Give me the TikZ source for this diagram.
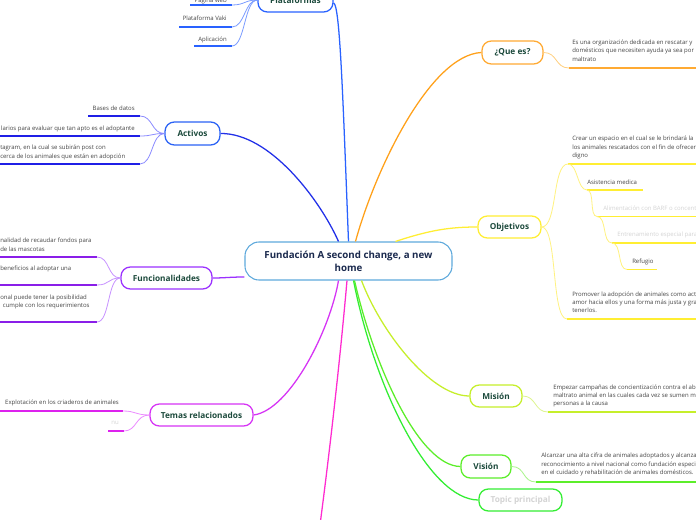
\documentclass[tikz,border=0pt]{standalone}
\usepackage{fontspec}
\setmainfont{Open Sans}
\usetikzlibrary{calc}
\definecolor{titlecol}{HTML}{1C4A3C}
\definecolor{centcol}{HTML}{1B2A4E}
\definecolor{txtcol}{HTML}{454545}
\definecolor{faint}{HTML}{D4D4D4}
\definecolor{centb}{HTML}{5EA9DC}
\definecolor{plat}{HTML}{2962FF}
\definecolor{platl}{HTML}{7B9CFF}
\definecolor{actc}{HTML}{2230E8}
\definecolor{actb}{HTML}{2A62F5}
\definecolor{actu}{HTML}{1F1FE6}
\definecolor{actl}{HTML}{8C8CFF}
\definecolor{func}{HTML}{9B30FF}
\definecolor{funu}{HTML}{8A1EE8}
\definecolor{funl}{HTML}{C792FF}
\definecolor{temc}{HTML}{D633F5}
\definecolor{temu}{HTML}{DD22EE}
\definecolor{teml}{HTML}{EC8CFF}
\definecolor{pinkc}{HTML}{FF2BD0}
\definecolor{quec}{HTML}{FFA11A}
\definecolor{queu}{HTML}{FFAA33}
\definecolor{quel}{HTML}{FFD080}
\definecolor{objc}{HTML}{FFEE33}
\definecolor{objl}{HTML}{FFF280}
\definecolor{misc}{HTML}{C6EF2A}
\definecolor{misl}{HTML}{DEF590}
\definecolor{visc}{HTML}{5CEE2A}
\definecolor{visl}{HTML}{A8F58A}
\definecolor{topc}{HTML}{33EE33}
\begin{document}
\begin{tikzpicture}[x=0.75pt,y=-0.75pt,
  title/.style={draw, rounded corners=7pt, line width=0.95pt, fill=white, text=titlecol,
    font=\fontsize{6.2}{7.5}\selectfont\bfseries, inner sep=0pt, minimum height=16.5pt},
  ltxt/.style={font=\fontsize{4.5}{6.3}\selectfont, text=txtcol, inner sep=0pt, align=left, anchor=north west},
  rtxt/.style={font=\fontsize{4.5}{6.3}\selectfont, text=txtcol, inner sep=0pt, align=right, anchor=north east},
  uline/.style={line width=1.2pt},
  conn/.style={line width=0.95pt},
  subc/.style={line width=0.6pt}
]
\useasboundingbox (0,0) rectangle (696,520);
\fill[white] (0,0) rectangle (696,520);
\clip (0,0) rectangle (696,520);

% ---------- main nodes ----------
\node[draw=centb, line width=0.8pt, rounded corners=10.5pt, fill=white, text=centcol,
  font=\fontsize{7.3}{10}\selectfont\bfseries, align=center, inner sep=0pt,
  minimum width=155.25pt, minimum height=28.5pt] (c) at (348.5,261)
  {Fundación A second change, a new\\home};

\node[title, draw=plat, minimum width=56.25pt, minimum height=18pt] (P) at (295.5,0) {Plataformas};
\node[title, draw=actb, minimum width=41.25pt, minimum height=17.25pt] (A) at (192.5,133.5) {Activos};
\node[title, draw=func, minimum width=68.25pt] (F) at (166.5,278) {Funcionalidades};
\node[title, draw=temc, minimum width=77.25pt] (T) at (201.5,415) {Temas relacionados};
\node[title, draw=queu, minimum width=45.75pt, minimum height=17.25pt] (Q) at (512.5,52.5) {¿Que es?};
\node[title, draw=objc, minimum width=47.25pt] (O) at (509.5,227) {Objetivos};
\node[title, draw=misc, minimum width=39pt] (M) at (496,396) {Misión};
\node[title, draw=visc, minimum width=37.5pt, minimum height=17.25pt] (V) at (486,466.5) {Visión};
\node[title, draw=topc, text=faint, minimum width=62.25pt] (TP) at (520.5,500) {Topic principal};

\coordinate (offnode) at (318,540);

% ---------- connectors from centre ----------
\draw[conn, plat] (c.north) .. controls (343,100) and (340,5) .. (P.east |- 0,3);
\draw[conn, actc] ($(c.north)+(-10,0)$) .. controls (320,200) and (270,133) .. (A.east);
\draw[conn, quec] ($(c.north)+(7,0)$) .. controls (375,170) and (430,55) .. (Q.west);
\draw[conn, objc] ($(c.north)+(47,0)$) .. controls (430,230) and (450,227) .. (O.west);
\draw[conn, func] ($(c.west)+(0,16)$) .. controls (230,277) and (225,278) .. (F.east);
\draw[conn, temc] ($(c.south)+(-10,0)$) .. controls (330,330) and (290,410) .. (T.east);
\draw[conn, pinkc] ($(c.south)+(-1.5,0)$) .. controls (340,360) and (330,450) .. (offnode);
\draw[conn, misc] ($(c.south)+(13,0)$) .. controls (380,330) and (430,396) .. (M.west);
\draw[conn, visc] ($(c.south)+(6,0)$) .. controls (375,370) and (420,466) .. (V.west);
\draw[conn, topc] ($(c.south)+(5,0)$) .. controls (375,390) and (430,500) .. (TP.west);

% ---------- Plataformas children ----------
\node[rtxt] (p1) at (227,-2) {Página web};
\node[rtxt] (p2) at (227,16) {Plataforma Vaki};
\node[rtxt] (p3) at (227,37) {Aplicación};
\coordinate (p1a) at (190,5);  \coordinate (p1b) at (232,5);
\coordinate (p2a) at (179,27); \coordinate (p2b) at (232,27);
\coordinate (p3a) at (194,46); \coordinate (p3b) at (232,46);
\foreach \a/\b in {p1a/p1b,p2a/p2b,p3a/p3b} \draw[uline, plat] (\a) -- (\b);
\foreach \b in {p1b,p2b,p3b} \draw[subc, platl] (P.west) .. controls +(-13,0) and +(13,0) .. (\b);

% ---------- Activos children ----------
\node[rtxt] (a1) at (135,106) {Bases de datos};
\node[rtxt] (a2) at (135,126) {larios para evaluar que tan apto es el adoptante};
\node[ltxt] (a3) at (0,145) {tagram, en la cual se subirán post con\\cerca de los animales que están en adopción};
\coordinate (a1a) at (88,116); \coordinate (a1b) at (140,116);
\coordinate (a2a) at (-5,136); \coordinate (a2b) at (140,136);
\coordinate (a3a) at (-5,164); \coordinate (a3b) at (140,164);
\foreach \a/\b in {a1a/a1b,a2a/a2b,a3a/a3b} \draw[uline, actu] (\a) -- (\b);
\foreach \b in {a1b,a2b,a3b} \draw[subc, actl] (A.west) .. controls +(-13,0) and +(13,0) .. (\b);

% ---------- Funcionalidades children ----------
\node[ltxt] (f1) at (0,238) {nalidad de recaudar fondos para\\de las mascotas};
\node[ltxt] (f2) at (0,265.7) {beneficios al adoptar una};
\node[ltxt] (f3) at (0,294.3) {onal puede tener la posibilidad\\\hspace*{2pt}cumple con los requerimientos};
\coordinate (f1a) at (-5,257); \coordinate (f1b) at (97,257);
\coordinate (f2a) at (-5,285); \coordinate (f2b) at (97,285);
\coordinate (f3a) at (-5,322); \coordinate (f3b) at (97,322);
\foreach \a/\b in {f1a/f1b,f2a/f2b,f3a/f3b} \draw[uline, funu] (\a) -- (\b);
\foreach \b in {f1b,f2b,f3b} \draw[subc, funl] (F.west) .. controls +(-13,0) and +(13,0) .. (\b);

% ---------- Temas children ----------
\node[rtxt] (t1) at (119,400) {Explotación en los criaderos de animales};
\node[rtxt, text=faint] (t2) at (119,421) {nu};
\coordinate (t1a) at (-5,411); \coordinate (t1b) at (123,411);
\coordinate (t2a) at (108,431); \coordinate (t2b) at (124,431);
\foreach \a/\b in {t1a/t1b,t2a/t2b} \draw[uline, temu] (\a) -- (\b);
\foreach \b in {t1b,t2b} \draw[subc, teml] (T.west) .. controls +(-14,0) and +(13,0) .. (\b);

% ---------- ¿Que es? child ----------
\node[ltxt] (q1) at (572,39.7) {Es una organización dedicada en rescatar y\\domésticos que necesiten ayuda ya sea por\\maltrato};
\coordinate (q1a) at (569,68); \coordinate (q1b) at (700,68);
\draw[uline, queu] (q1a) -- (q1b);
\draw[subc, quel] (Q.east) .. controls +(14,0) and +(-14,0) .. (q1a);

% ---------- Objetivos children ----------
\node[ltxt] (o1) at (572,136) {Crear un espacio en el cual se le brindará la\\los animales rescatados con el fin de ofrecer\\digno};
\node[ltxt] (o2) at (587,179.3) {Asistencia medica};
\node[ltxt, text=faint] (o3) at (603,206) {Alimentación con BARF o concent};
\node[ltxt, text=faint] (o4) at (617,232) {Entrenamiento especial para};
\node[ltxt] (o5) at (632,258.7) {Refugio};
\node[ltxt] (o6) at (572,291.3) {Promover la adopción de animales como act\\amor hacia ellos y una forma más justa y gra\\tenerlos.};
\coordinate (o1a) at (568,164);   \coordinate (o1b) at (700,164);
\coordinate (o2a) at (587,190);   \coordinate (o2b) at (643,190);
\coordinate (o3a) at (597,216.5); \coordinate (o3b) at (700,216.5);
\coordinate (o4a) at (612,243);   \coordinate (o4b) at (700,243);
\coordinate (o5a) at (627,269.5); \coordinate (o5b) at (657,269.5);
\coordinate (o6a) at (567,319);   \coordinate (o6b) at (700,319);
\foreach \a/\b in {o1a/o1b,o2a/o2b,o3a/o3b,o4a/o4b,o5a/o5b,o6a/o6b} \draw[uline, objc] (\a) -- (\b);
\draw[subc, objl] (O.east) .. controls +(16,0) and +(-16,0) .. (o1a);
\draw[subc, objl] (O.east) .. controls +(16,0) and +(-16,0) .. (o6a);
\draw[subc, objl] (o1a) .. controls +(10,0) and +(-10,0) .. (o2a);
\draw[subc, objl] (o2a) .. controls +(8,0) and +(-8,0) .. (o3a);
\draw[subc, objl] (o3a) .. controls +(10,0) and +(-10,0) .. (o4a);
\draw[subc, objl] (o4a) .. controls +(10,0) and +(-10,0) .. (o5a);

% ---------- Misión child ----------
\node[ltxt] (m1) at (553,384.3) {Empezar campañas de concientización contra el ab\\maltrato animal en las cuales cada vez se sumen m\\personas a la causa};
\coordinate (m1a) at (548,412); \coordinate (m1b) at (700,412);
\draw[uline, misc] (m1a) -- (m1b);
\draw[subc, misl] (M.east) .. controls +(14,0) and +(-14,0) .. (m1a);

% ---------- Visión child ----------
\node[ltxt] (v1) at (541,453) {Alcanzar una alta cifra de animales adoptados y alcanza\\reconocimiento a nivel nacional como fundación especia\\en el cuidado y rehabilitación de animales domésticos.};
\coordinate (v1a) at (536,482); \coordinate (v1b) at (700,482);
\draw[uline, visc] (v1a) -- (v1b);
\draw[subc, visl] (V.east) .. controls +(14,0) and +(-14,0) .. (v1a);
\end{tikzpicture}
\end{document}
